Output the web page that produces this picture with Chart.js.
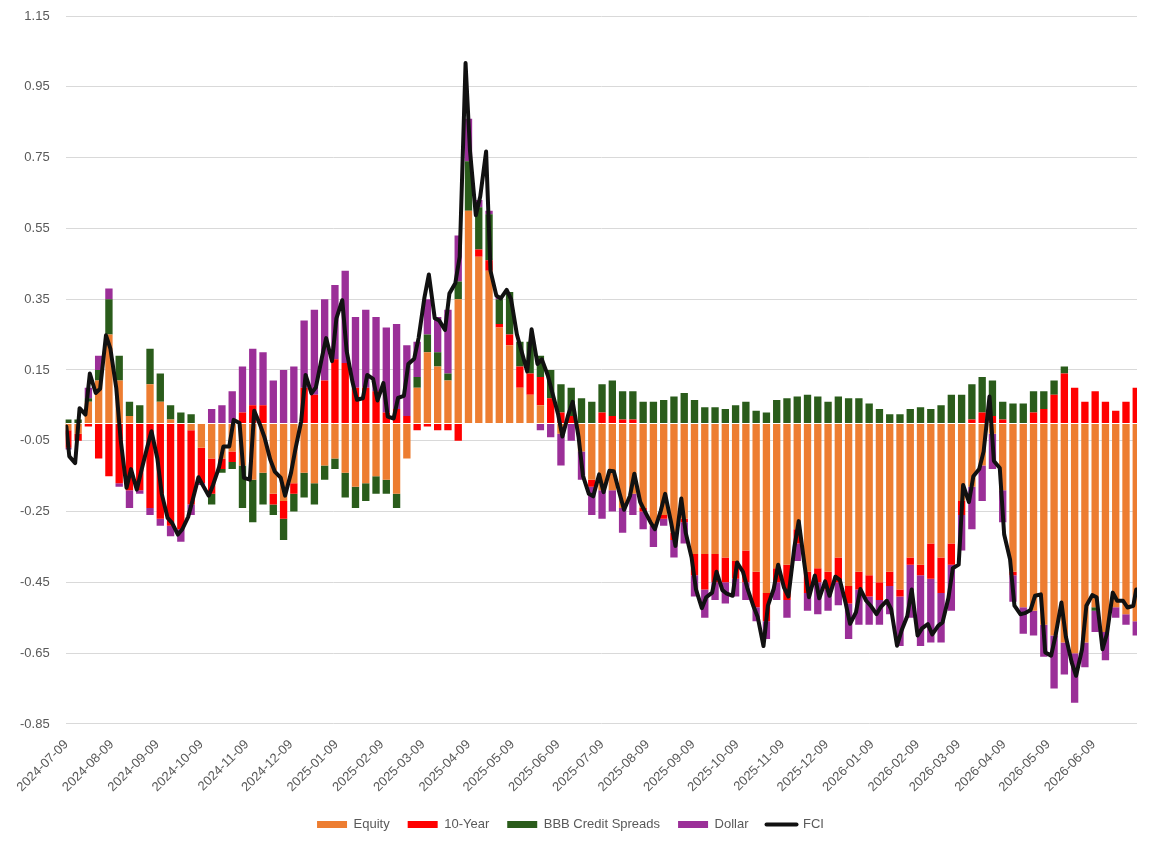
<!DOCTYPE html>
<html>
<head>
<meta charset="utf-8">
<script src="https://cdn.jsdelivr.net/npm/chart.js@4.4.1/dist/chart.umd.min.js"></script>
<style>
html,body{margin:0;padding:0;background:#ffffff;}
#wrap{width:1165px;height:841px;position:relative;}
canvas{display:block;}
</style>
</head>
<body>
<div id="wrap"><canvas id="c" width="1165" height="841"></canvas></div>
<script>
// ---- data (weekly readings, week k = business days around day 7k+1 after 2024-07-09) ----
const startDate = '2024-07-09';
const lastDate = '2026-07-08';
const tickDates = ['2024-07-09','2024-08-09','2024-09-09','2024-10-09','2024-11-09','2024-12-09',
  '2025-01-09','2025-02-09','2025-03-09','2025-04-09','2025-05-09','2025-06-09',
  '2025-07-09','2025-08-09','2025-09-09','2025-10-09','2025-11-09','2025-12-09',
  '2026-01-09','2026-02-09','2026-03-09','2026-04-09','2026-05-09','2026-06-09'];
const yTickStep = 0.2;

const equity = [
 -0.02,-0.03,0.06,0.12,0.25,0.12,0.02,0.00,0.11,0.06,
 0.01,0.00,-0.02,-0.07,-0.10,-0.10,-0.08,-0.12,-0.16,-0.14,
 -0.20,-0.22,-0.17,-0.14,-0.17,-0.12,-0.10,-0.14,-0.18,-0.17,
 -0.15,-0.16,-0.20,-0.10,0.10,0.20,0.16,0.12,0.35,0.60,
 0.47,0.43,0.27,0.22,0.10,0.08,0.05,0.00,-0.03,0.00,
 -0.08,-0.16,-0.19,-0.19,-0.24,-0.20,-0.24,-0.29,-0.26,-0.31,
 -0.27,-0.37,-0.37,-0.37,-0.38,-0.39,-0.36,-0.42,-0.48,-0.41,
 -0.40,-0.30,-0.42,-0.41,-0.42,-0.38,-0.46,-0.42,-0.43,-0.45,
 -0.42,-0.47,-0.38,-0.40,-0.34,-0.38,-0.34,-0.22,-0.18,-0.12,
 -0.03,-0.19,-0.42,-0.52,-0.53,-0.57,-0.60,-0.62,-0.65,-0.62,
 -0.52,-0.59,-0.52,-0.54,-0.56];
const tenYear = [
 -0.05,-0.02,-0.01,-0.10,-0.15,-0.17,-0.19,-0.19,-0.24,-0.27,
 -0.29,-0.30,-0.21,-0.10,-0.10,-0.03,-0.03,0.03,0.05,0.05,
 -0.03,-0.05,-0.03,0.10,0.08,0.12,0.18,0.17,0.10,0.10,
 0.09,0.03,0.04,0.02,-0.02,-0.01,-0.02,-0.02,-0.05,0.00,
 0.02,0.03,0.01,0.03,0.06,0.06,0.08,0.07,0.03,0.02,
 0.00,-0.02,0.03,0.02,0.01,0.01,-0.01,0.00,-0.01,-0.02,
 -0.01,-0.06,-0.10,-0.08,-0.07,-0.05,-0.09,-0.10,-0.08,-0.04,
 -0.10,-0.04,-0.06,-0.04,-0.05,-0.07,-0.05,-0.05,-0.06,-0.05,
 -0.04,-0.02,-0.02,-0.03,-0.10,-0.10,-0.06,-0.04,0.01,0.03,
 0.02,0.01,-0.01,0.00,0.03,0.04,0.08,0.14,0.10,0.06,
 0.09,0.06,0.035,0.06,0.10];
const bbb = [
 0.01,0.01,0.01,0.03,0.10,0.07,0.04,0.05,0.10,0.08,
 0.04,0.03,0.025,0.00,-0.03,-0.01,-0.02,-0.12,-0.12,-0.09,
 -0.03,-0.06,-0.05,-0.07,-0.06,-0.04,-0.03,-0.07,-0.06,-0.05,
 -0.05,-0.04,-0.04,0.00,0.03,0.05,0.04,0.02,0.05,0.14,
 0.12,0.13,0.07,0.12,0.07,0.09,0.06,0.08,0.08,0.08,
 0.07,0.06,0.08,0.10,0.08,0.08,0.06,0.06,0.065,0.075,
 0.085,0.065,0.045,0.045,0.04,0.05,0.06,0.035,0.03,0.065,
 0.07,0.075,0.08,0.075,0.06,0.075,0.07,0.07,0.055,0.04,
 0.025,0.025,0.04,0.045,0.04,0.05,0.08,0.08,0.10,0.10,
 0.10,0.05,0.055,0.055,0.06,0.05,0.04,0.02,0.00,0.00,
 -0.01,0.00,0.00,0.00,0.00];
const dollar = [
 -0.005,0.00,0.03,0.04,0.03,-0.01,-0.05,-0.01,-0.02,-0.02,
 -0.03,-0.035,-0.03,-0.005,0.04,0.05,0.09,0.13,0.16,0.15,
 0.12,0.15,0.16,0.19,0.24,0.23,0.21,0.26,0.20,0.22,
 0.21,0.24,0.24,0.20,0.10,0.10,0.10,0.18,0.13,0.12,
 0.02,0.01,0.01,0.00,0.00,0.00,-0.02,-0.04,-0.09,-0.05,
 -0.08,-0.08,-0.08,-0.06,-0.07,-0.06,-0.05,-0.06,-0.02,-0.05,
 -0.06,-0.06,-0.08,-0.05,-0.06,-0.05,-0.05,-0.04,-0.05,-0.05,
 -0.05,-0.05,-0.05,-0.09,-0.06,-0.065,-0.10,-0.10,-0.08,-0.07,
 -0.08,-0.14,-0.15,-0.20,-0.18,-0.14,-0.13,-0.10,-0.12,-0.10,
 -0.10,-0.09,-0.075,-0.075,-0.07,-0.09,-0.15,-0.09,-0.14,-0.07,
 -0.06,-0.08,-0.03,-0.03,-0.04];
// FCI read twice per week (Monday and Thursday of week k)
const fci = [
 -0.01,-0.094, -0.113,0.042, 0.024,0.14, 0.085,0.097, 0.248,0.21,
 0.099,-0.047, -0.183,-0.13, -0.188,-0.136, -0.07,-0.023, -0.10,-0.20,
 -0.268,-0.282, -0.315,-0.30, -0.265,-0.218, -0.153,-0.176, -0.205,-0.174,
 -0.125,-0.066, -0.066,0.009, 0.00,-0.155, -0.16,0.035, -0.005,-0.04,
 -0.104,-0.137, -0.154,-0.205, -0.142,-0.075, 0.005,0.136, 0.084,0.101,
 0.183,0.24, 0.175,0.296, 0.347,0.203, 0.115,0.066, 0.07,0.136,
 0.125,0.064, 0.113,0.018, 0.013,0.071, 0.077,0.167, 0.182,0.24,
 0.355,0.42, 0.296,0.29, 0.263,0.366, 0.395,0.47, 1.017,0.77,
 0.587,0.64, 0.767,0.43, 0.36,0.352, 0.376,0.35, 0.25,0.205,
 0.146,0.265, 0.167,0.18, 0.135,0.088, 0.026,-0.038, 0.024,0.06,
 -0.039,-0.149, -0.20,-0.207, -0.145,-0.195, -0.135,-0.136, -0.20,-0.245,
 -0.206,-0.143, -0.223,-0.248, -0.28,-0.30, -0.248,-0.20, -0.28,-0.347,
 -0.213,-0.31, -0.38,-0.47, -0.523,-0.492, -0.479,-0.42, -0.472,-0.482,
 -0.488,-0.394, -0.42,-0.466, -0.516,-0.547, -0.63,-0.516, -0.468,-0.40,
 -0.465,-0.49, -0.352,-0.277, -0.402,-0.492, -0.431,-0.495, -0.447,-0.488,
 -0.434,-0.443, -0.509,-0.567, -0.535,-0.469, -0.502,-0.516, -0.54,-0.519,
 -0.502,-0.526, -0.629,-0.587, -0.545,-0.47, -0.60,-0.58, -0.568,-0.597,
 -0.573,-0.563, -0.494,-0.41, -0.40,-0.175, -0.223,-0.15, -0.13,-0.08,
 0.075,-0.107, -0.127,-0.315, -0.385,-0.516, -0.54,-0.537, -0.528,-0.488,
 -0.484,-0.648, -0.657,-0.60, -0.507,-0.603, -0.676,-0.714, -0.64,-0.516,
 -0.486,-0.492, -0.639,-0.596, -0.479,-0.502, -0.502,-0.521, -0.516,-0.47];

// ---- helpers ----
function dayOf(s){
  const p = s.split('-').map(Number);
  const b = startDate.split('-').map(Number);
  return Math.round((Date.UTC(p[0],p[1]-1,p[2]) - Date.UTC(b[0],b[1]-1,b[2]))/864e5);
}
const lastDay = dayOf(lastDate);
const weekDay = k => 7*k + 1;
const fciDay = i => { const k = Math.floor(i/2); return i%2===0 ? Math.max(0, 7*k-1) : Math.min(lastDay, 7*k+2); };
const toXY = arr => arr.map((v,k)=>({x: weekDay(k), y: v}));

Chart.defaults.font.family = "'Liberation Sans', Arial, sans-serif";
Chart.defaults.font.size = 13;
Chart.defaults.color = '#595959';

const barCommon = {barPercentage: 0.715, categoryPercentage: 1, borderWidth: 0};

// thin white separator at zero, drawn over the bars and under the FCI line
const zeroLine = {
  id: 'zeroLine',
  beforeDatasetDraw(chart, args) {
    if (args.index !== 4) return;
    const {ctx, chartArea} = chart;
    const y = chart.scales.y.getPixelForValue(0);
    ctx.save();
    ctx.strokeStyle = '#ffffff';
    ctx.lineWidth = 1;
    ctx.beginPath();
    ctx.moveTo(chartArea.left, Math.round(y) + 0.5);
    ctx.lineTo(chartArea.right, Math.round(y) + 0.5);
    ctx.stroke();
    ctx.restore();
  }
};

new Chart(document.getElementById('c'), {
  type: 'bar',
  plugins: [zeroLine],
  data: {
    datasets: [
      Object.assign({label:'Equity', data: toXY(equity), backgroundColor:'#ED7D31'}, barCommon),
      Object.assign({label:'10-Year', data: toXY(tenYear), backgroundColor:'#FF0000'}, barCommon),
      Object.assign({label:'BBB Credit Spreads', data: toXY(bbb), backgroundColor:'#2A5C1B'}, barCommon),
      Object.assign({label:'Dollar', data: toXY(dollar), backgroundColor:'#9B2F98'}, barCommon),
      {type:'line', label:'FCI', data: fci.map((v,i)=>({x: fciDay(i), y: v})), yAxisID:'yL',
       borderColor:'#111111', backgroundColor:'#111111', borderWidth:4, pointRadius:0,
       tension:0, order:-1, borderJoinStyle:'round', borderCapStyle:'round'}
    ]
  },
  options: {
    responsive: false,
    animation: false,
    layout: {padding: {left: 4, right: 28, top: 16, bottom: 0}},
    plugins: {
      tooltip: {enabled: false},
      legend: {
        position: 'bottom',
        labels: {
          usePointStyle: true, pointStyleWidth: 30, boxHeight: 7, padding: 18,
          color: '#595959', font: {size: 13},
          generateLabels: chart => chart.data.datasets.map((ds, i) => ({
            text: ds.label,
            fillStyle: ds.backgroundColor,
            strokeStyle: ds.type === 'line' ? ds.borderColor : ds.backgroundColor,
            lineWidth: ds.type === 'line' ? 4 : 0,
            lineCap: 'round',
            pointStyle: ds.type === 'line' ? 'line' : 'rect',
            hidden: false,
            datasetIndex: i,
            fontColor: '#595959'
          }))
        }
      }
    },
    scales: {
      x: {
        type: 'linear', min: -0.5, max: lastDay + 0.5, stacked: true, offset: false,
        grid: {display: false}, border: {display: false},
        afterBuildTicks: s => { s.ticks = tickDates.map(t => ({value: dayOf(t)})); },
        afterFit: s => { s.paddingLeft = 0; s.paddingRight = 0; },
        ticks: {autoSkip: false, minRotation: 45, maxRotation: 45, padding: 5,
                callback: (v, i) => tickDates[i]}
      },
      y: {
        min: -0.85, max: 1.15, stacked: true,
        grid: {color: '#D9D9D9', drawTicks: false},
        border: {display: false},
        afterFit: s => { s.paddingTop = 0; s.paddingBottom = 0; },
        ticks: {stepSize: yTickStep, padding: 16, callback: v => Number(v).toFixed(2)}
      },
      yL: {display: false, min: -0.85, max: 1.15}
    }
  }
});
</script>
</body>
</html>
